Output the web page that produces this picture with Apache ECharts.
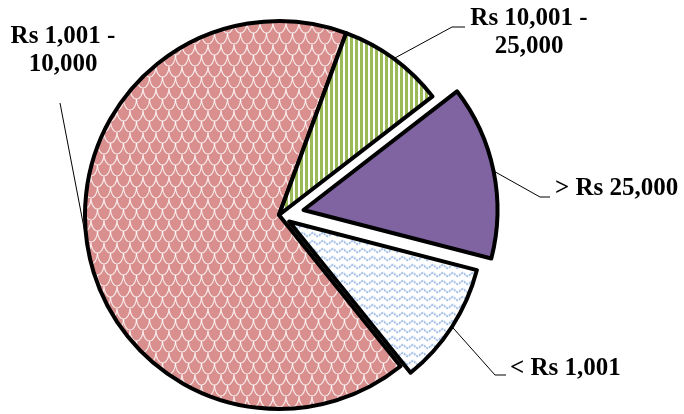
<!DOCTYPE html>
<html><head><meta charset="utf-8">
<script src="https://cdn.jsdelivr.net/npm/echarts@6/dist/echarts.min.js"></script>
<style>html,body{margin:0;padding:0;background:#fff}#c{width:684px;height:414px}</style>
</head><body><div id="c"></div>
<script>
// ---- data ----
const categories = ['< Rs 1,001', 'Rs 1,001 - 10,000', 'Rs 10,001 - 25,000', '> Rs 25,000'];
const shares = [10.2, 66.4, 8.9, 14.5];

// ---- style / layout ----
const CENTER = [279, 215];
const RADIUS = 194;
const START_ANGLE = -14.5;
const explodeOffsets = [12, 0, 0, 25];
const FONT = 'Liberation Serif, "Times New Roman", serif';

function makePattern(w, h, draw) {
  const c = document.createElement('canvas');
  c.width = w; c.height = h;
  const g = c.getContext('2d');
  draw(g, w, h);
  return { image: c, repeat: 'repeat' };
}
const bluePat = makePattern(10, 8, (g, w, h) => {
  g.fillStyle = '#ffffff'; g.fillRect(0, 0, w, h);
  g.strokeStyle = '#6E9AD8'; g.lineWidth = 1.3;
  g.setLineDash([2, 1]);
  g.beginPath();
  for (let x = -1; x <= w + 1; x += 0.5) {
    const y = 4 - 1.6 * Math.sin(2 * Math.PI * x / w);
    if (x === -1) g.moveTo(x, y); else g.lineTo(x, y);
  }
  g.stroke();
});
const redPat = makePattern(13, 22, (g, w, h) => {
  g.fillStyle = '#D88F8D'; g.fillRect(0, 0, w, h);
  g.strokeStyle = 'rgba(255,255,255,0.8)'; g.lineWidth = 1.2;
  const rx = w / 2, ry = h / 2;
  [[w / 2, 0], [0, h / 2], [w, h / 2], [w / 2, h]].forEach(([cx, cy]) => {
    g.beginPath(); g.ellipse(cx, cy, rx, ry, 0, 0, Math.PI); g.stroke();
  });
});
const greenPat = makePattern(5, 4, (g, w, h) => {
  g.fillStyle = '#ffffff'; g.fillRect(0, 0, w, h);
  g.fillStyle = '#9BBB59'; g.fillRect(0, 0, 3, h);
});
const fills = [bluePat, redPat, greenPat, '#8064A2'];

const LABEL_POS = [
  { x: 510, y: 369, align: 'left', elbow: [495, 375], end: [506, 375] },
  { x: 63, y: 51, align: 'center', elbow: [60, 103], end: [60, 103] },
  { x: 529, y: 33, align: 'center', elbow: [452, 27], end: [465, 27] },
  { x: 555, y: 189, align: 'left', elbow: [540, 197], end: [550, 197] }
];

const hidden = { color: 'rgba(0,0,0,0)', borderWidth: 0 };
const shown = i => ({ color: fills[i], borderColor: '#000', borderWidth: 4 });

// Series 0: non-exploded slices + all labels
const labelSeries = {
  type: 'pie', center: CENTER, radius: RADIUS, startAngle: START_ANGLE,
  clockwise: true, avoidLabelOverlap: false, silent: true, selectedMode: false,
  label: {
    show: true, position: 'outside', color: '#000', fontFamily: FONT,
    fontWeight: 'bold', fontSize: 25, lineHeight: 28,
    formatter: p => p.name.replace(' - ', ' -\n')
  },
  labelLine: { show: true, length: 20, length2: 10, lineStyle: { color: '#000', width: 1 } },
  labelLayout: function (p) {
    const L = LABEL_POS[p.dataIndex];
    let p0;
    if (p.labelLinePoints && p.labelLinePoints[0]) {
      p0 = p.labelLinePoints[0].slice();
    } else {
      p0 = [CENTER[0], CENTER[1]];
    }
    const off = explodeOffsets[p.dataIndex];
    if (off) {
      const dx = p0[0] - CENTER[0], dy = p0[1] - CENTER[1];
      const d = Math.hypot(dx, dy) || 1;
      p0 = [p0[0] + dx / d * off, p0[1] + dy / d * off];
    }
    return {
      x: L.x, y: L.y, align: L.align, verticalAlign: 'middle',
      labelLinePoints: [p0, L.elbow, L.end]
    };
  },
  data: categories.map((name, i) => ({
    name, value: shares[i],
    itemStyle: explodeOffsets[i] ? hidden : shown(i)
  }))
};

function explodedSeries(idx) {
  return {
    type: 'pie', center: CENTER, radius: RADIUS, startAngle: START_ANGLE,
    clockwise: true, silent: true, selectedMode: 'single',
    selectedOffset: explodeOffsets[idx],
    label: { show: false }, labelLine: { show: false },
    select: { itemStyle: { borderColor: '#000', borderWidth: 4 } },
    data: categories.map((name, i) => ({
      name, value: shares[i], selected: i === idx,
      itemStyle: i === idx ? shown(i) : hidden
    }))
  };
}

const chart = echarts.init(document.getElementById('c'), null, { renderer: 'canvas' });
chart.setOption({
  animation: false,
  backgroundColor: '#ffffff',
  series: [labelSeries, explodedSeries(0), explodedSeries(3)]
});
</script>
</body></html>
